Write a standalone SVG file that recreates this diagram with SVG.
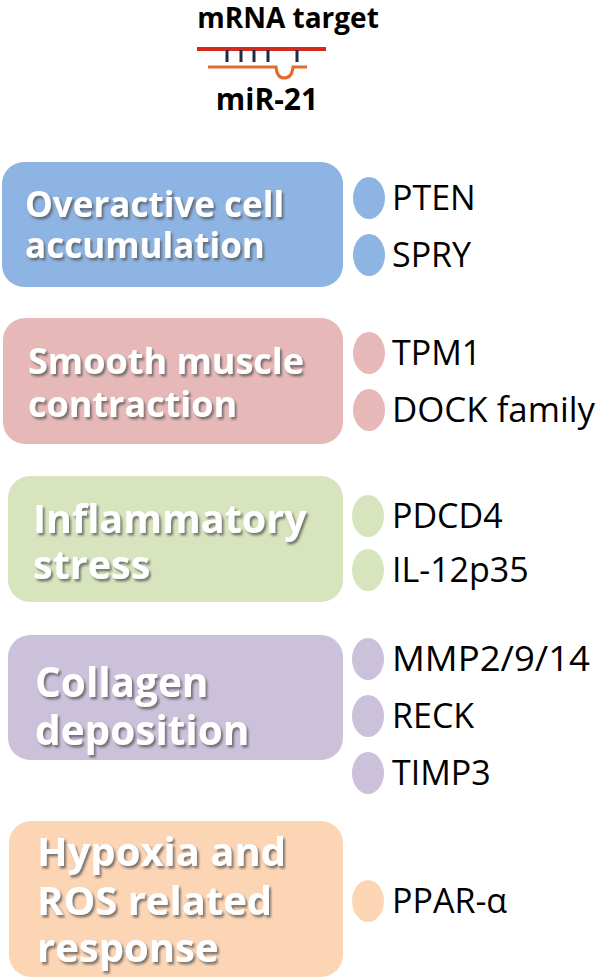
<svg xmlns="http://www.w3.org/2000/svg" width="598" height="979" viewBox="0 0 598 979">
<style>
.t{font-family:"Open Sans","Noto Sans","DejaVu Sans",sans-serif;font-weight:bold;fill:#fff;filter:url(#sh)}
.g{font-family:"Open Sans","Noto Sans","DejaVu Sans",sans-serif;fill:#000;font-size:34px}
.h{font-family:"Open Sans","Noto Sans","DejaVu Sans",sans-serif;font-weight:bold;fill:#000}
</style>
<defs>
<filter id="sh" x="-10%" y="-20%" width="130%" height="150%">
<feDropShadow dx="2" dy="2.5" stdDeviation="1.2" flood-color="#555" flood-opacity="0.75"/>
</filter>
</defs>
<rect width="598" height="979" fill="#fff"/>
<g id="header">
<text class="h" x="288" y="28" font-size="28" text-anchor="middle">mRNA target</text>
<line x1="197" y1="49" x2="326" y2="49" stroke="#d42a1e" stroke-width="4"/>
<g stroke="#1f2a44" stroke-width="3">
<line x1="227" y1="50" x2="227" y2="62"/><line x1="241" y1="50" x2="241" y2="62"/><line x1="254" y1="50" x2="254" y2="62"/><line x1="268" y1="50" x2="268" y2="62"/><line x1="297" y1="50" x2="297" y2="62"/>
</g>
<path d="M208 67 H276 Q277 78 284 78 Q292 78 293 67 H307" fill="none" stroke="#e46c2a" stroke-width="3"/>
<text class="h" x="267" y="110" font-size="30" text-anchor="middle">miR-21</text>
</g>
<g id="box1">
<rect x="2" y="162" width="341" height="125" rx="22" fill="#8eb4e3"/>
<text class="t" x="25" y="217" font-size="35">Overactive cell</text>
<text class="t" x="25" y="258" font-size="35">accumulation</text>
</g>
<g id="box1-targets">
<ellipse cx="369" cy="198" rx="16" ry="21" fill="#8eb4e3"/>
<text class="g" x="392" y="210">PTEN</text>
<ellipse cx="369" cy="255" rx="16" ry="21" fill="#8eb4e3"/>
<text class="g" x="392" y="267">SPRY</text>
</g>
<g id="box2">
<rect x="3" y="318" width="340" height="126" rx="22" fill="#e6b9b8"/>
<text class="t" x="28" y="374" font-size="36">Smooth muscle</text>
<text class="t" x="28" y="417" font-size="36">contraction</text>
</g>
<g id="box2-targets">
<ellipse cx="369" cy="353" rx="16" ry="21" fill="#e6b9b8"/>
<text class="g" x="392" y="365">TPM1</text>
<ellipse cx="369" cy="410" rx="16" ry="21" fill="#e6b9b8"/>
<text class="g" x="392" y="422" textLength="203" lengthAdjust="spacingAndGlyphs">DOCK family</text>
</g>
<g id="box3">
<rect x="8" y="476" width="335" height="126" rx="22" fill="#d7e4bd"/>
<text class="t" x="33" y="533" font-size="39.5">Inflammatory</text>
<text class="t" x="33" y="579" font-size="39.5">stress</text>
</g>
<g id="box3-targets">
<ellipse cx="368" cy="516" rx="16" ry="21" fill="#d7e4bd"/>
<text class="g" x="392" y="528">PDCD4</text>
<ellipse cx="368" cy="570" rx="16" ry="21" fill="#d7e4bd"/>
<text class="g" x="392" y="582">IL-12p35</text>
</g>
<g id="box4">
<rect x="8" y="635" width="335" height="125" rx="22" fill="#ccc1da"/>
<text class="t" x="35" y="697" font-size="40.5">Collagen</text>
<text class="t" x="35" y="745" font-size="40.5">deposition</text>
</g>
<g id="box4-targets">
<ellipse cx="368" cy="659" rx="16" ry="21" fill="#ccc1da"/>
<text class="g" x="392" y="671" textLength="198" lengthAdjust="spacingAndGlyphs">MMP2/9/14</text>
<ellipse cx="368" cy="716" rx="16" ry="21" fill="#ccc1da"/>
<text class="g" x="392" y="728">RECK</text>
<ellipse cx="368" cy="773" rx="16" ry="21" fill="#ccc1da"/>
<text class="g" x="392" y="785">TIMP3</text>
</g>
<g id="box5">
<rect x="9" y="821" width="334" height="156" rx="22" fill="#fcd5b5"/>
<text class="t" x="37" y="866" font-size="40">Hypoxia and</text>
<text class="t" x="37" y="915" font-size="40">ROS related</text>
<text class="t" x="37" y="962" font-size="40">response</text>
</g>
<g id="box5-targets">
<ellipse cx="368" cy="901" rx="16" ry="21" fill="#fcd5b5"/>
<text class="g" x="392" y="913">PPAR-α</text>
</g>
<g id="connectors"/>
</svg>
